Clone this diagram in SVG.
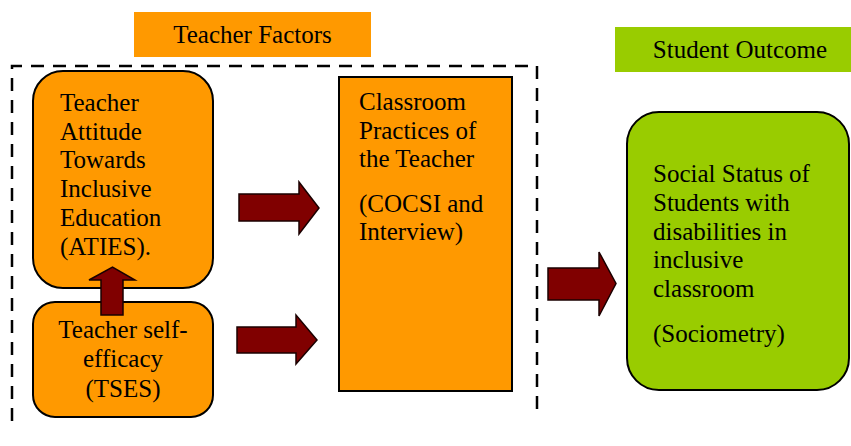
<svg xmlns="http://www.w3.org/2000/svg" width="851" height="446" viewBox="0 0 851 446">
<style>
.t{font-family:"Liberation Serif","Times New Roman",serif;font-size:25px;fill:#000}
.org{fill:#FF9900;stroke:#000;stroke-width:2}
.grn{fill:#99CC00;stroke:#000;stroke-width:2}
.arr{fill:#800000;stroke:#1a0000;stroke-width:1.5;stroke-linejoin:miter}
</style>
<rect width="851" height="446" fill="#fff"/>
<g id="teacher-factors-label">
<rect x="134" y="12" width="237" height="45" fill="#FF9900"/>
<text class="t" x="252.5" y="43" text-anchor="middle">Teacher Factors</text>
</g>
<g id="student-outcome-label">
<rect x="615" y="27" width="236" height="45" fill="#99CC00"/>
<text class="t" x="740" y="58" text-anchor="middle">Student Outcome</text>
</g>
<g id="teacher-factors-frame">
<path d="M12,421 V66 H537 V416" fill="none" stroke="#000" stroke-width="2.5" stroke-dasharray="13,9"/>
</g>
<g id="aties">
<rect class="org" x="33" y="71" width="180" height="217" rx="30" ry="30"/>
<text class="t" x="60" y="111">Teacher</text>
<text class="t" x="60" y="140">Attitude</text>
<text class="t" x="60" y="168">Towards</text>
<text class="t" x="60" y="197">Inclusive</text>
<text class="t" x="60" y="226">Education</text>
<text class="t" x="60" y="255">(ATIES).</text>
</g>
<g id="tses">
<rect class="org" x="33" y="302" width="180" height="115" rx="22" ry="22"/>
<text class="t" x="123" y="338" text-anchor="middle">Teacher self-</text>
<text class="t" x="123" y="367" text-anchor="middle">efficacy</text>
<text class="t" x="123" y="397" text-anchor="middle">(TSES)</text>
</g>
<g id="classroom">
<rect class="org" x="339" y="77" width="173" height="314"/>
<text class="t" x="359" y="110">Classroom</text>
<text class="t" x="359" y="139">Practices of</text>
<text class="t" x="359" y="167">the Teacher</text>
<text class="t" x="359" y="212">(COCSI and</text>
<text class="t" x="359" y="240">Interview)</text>
</g>
<g id="social-status">
<rect class="grn" x="627" y="112" width="222" height="278" rx="32" ry="32"/>
<text class="t" x="653" y="182">Social Status of</text>
<text class="t" x="653" y="211">Students with</text>
<text class="t" x="653" y="240">disabilities in</text>
<text class="t" x="653" y="268">inclusive</text>
<text class="t" x="653" y="297">classroom</text>
<text class="t" x="653" y="342">(Sociometry)</text>
</g>
<g id="connectors">
<path class="arr" d="M101,315 V280 H89 L112.5,267 L135,280 H123 V315 Z"/>
<path class="arr" d="M239,194 H299 V182 L319,208 L299,234 V221 H239 Z"/>
<path class="arr" d="M237,327 H296 V315 L317,340 L296,364 V353 H237 Z"/>
<path class="arr" d="M548,268 H599 V252 L616,283.5 L599,316 V300 H548 Z"/>
</g>
</svg>
